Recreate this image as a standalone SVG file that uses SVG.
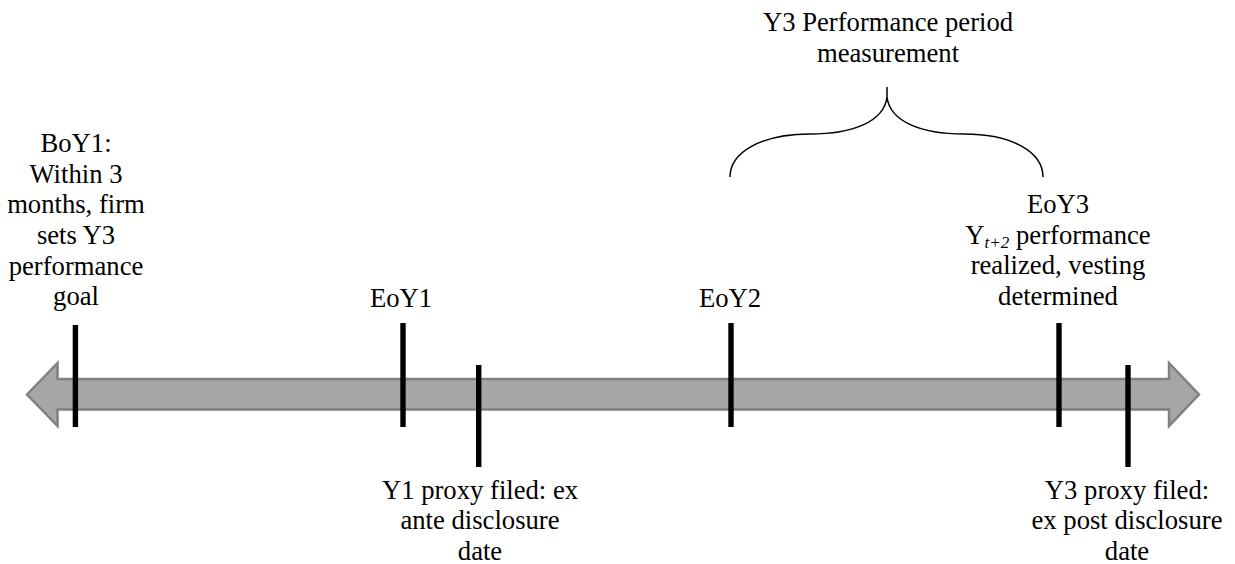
<svg xmlns="http://www.w3.org/2000/svg" width="1235" height="564" viewBox="0 0 1235 564">
  <style>
    .lbl { font-family: "Liberation Serif", "Times New Roman", serif; font-size: 26.67px; fill: #000; text-anchor: middle; }
    .sub { font-style: italic; font-size: 17px; }
    .tick { fill: #000; }
    .axis { fill: #a6a6a6; stroke: #808080; stroke-width: 2.5; stroke-linejoin: miter; }
    .brace { fill: none; stroke: #000; stroke-width: 1.5; }
  </style>
  <rect width="1235" height="564" fill="#fff"/>

  <!-- timeline: double-headed block arrow, plus the brace over the Y3 period -->
  <g id="connectors">
    <polygon class="axis" points="27,394.5 57.5,363 57.5,379 1169,379 1169,363 1199,394.5 1169,426 1169,409.5 57.5,409.5 57.5,426"/>
    <path class="brace" d="M730,177 C730,152 762,134 810,134 C852,134 884,122 887,97 L887,87 M887,97 C890,122 922,134 964,134 C1012,134 1043,152 1043,177"/>
  </g>

  <g id="ticks">
    <rect class="tick" x="72.7" y="325" width="5.4" height="102"/>
    <rect class="tick" x="400.3" y="323" width="5.4" height="104"/>
    <rect class="tick" x="476" y="365" width="5.4" height="102"/>
    <rect class="tick" x="728.3" y="323" width="5.4" height="104"/>
    <rect class="tick" x="1056.3" y="323" width="5.4" height="104"/>
    <rect class="tick" x="1125.3" y="365" width="5.4" height="102"/>
  </g>

  <g id="boy1">
    <text class="lbl" x="76" y="152">BoY1:</text>
    <text class="lbl" x="76" y="182.7">Within 3</text>
    <text class="lbl" x="76" y="213.4">months, firm</text>
    <text class="lbl" x="76" y="244">sets Y3</text>
    <text class="lbl" x="76" y="274.7">performance</text>
    <text class="lbl" x="76" y="305.4">goal</text>
  </g>

  <g id="eoy1">
    <text class="lbl" x="401" y="307">EoY1</text>
  </g>

  <g id="eoy2">
    <text class="lbl" x="730" y="307">EoY2</text>
  </g>

  <g id="eoy3">
    <text class="lbl" x="1058" y="213">EoY3</text>
    <text class="lbl" x="1058" y="243.7">Y<tspan class="sub" dy="4">t+2</tspan><tspan dy="-4"> performance</tspan></text>
    <text class="lbl" x="1058" y="274.4">realized, vesting</text>
    <text class="lbl" x="1058" y="305">determined</text>
  </g>

  <g id="y3-period">
    <text class="lbl" x="888" y="31">Y3 Performance period</text>
    <text class="lbl" x="888" y="62">measurement</text>
  </g>

  <g id="y1-proxy">
    <text class="lbl" x="480" y="498.5">Y1 proxy filed: ex</text>
    <text class="lbl" x="480" y="529">ante disclosure</text>
    <text class="lbl" x="480" y="559.5">date</text>
  </g>

  <g id="y3-proxy">
    <text class="lbl" x="1127" y="498.5">Y3 proxy filed:</text>
    <text class="lbl" x="1127" y="529">ex post disclosure</text>
    <text class="lbl" x="1127" y="559.5">date</text>
  </g>
</svg>
